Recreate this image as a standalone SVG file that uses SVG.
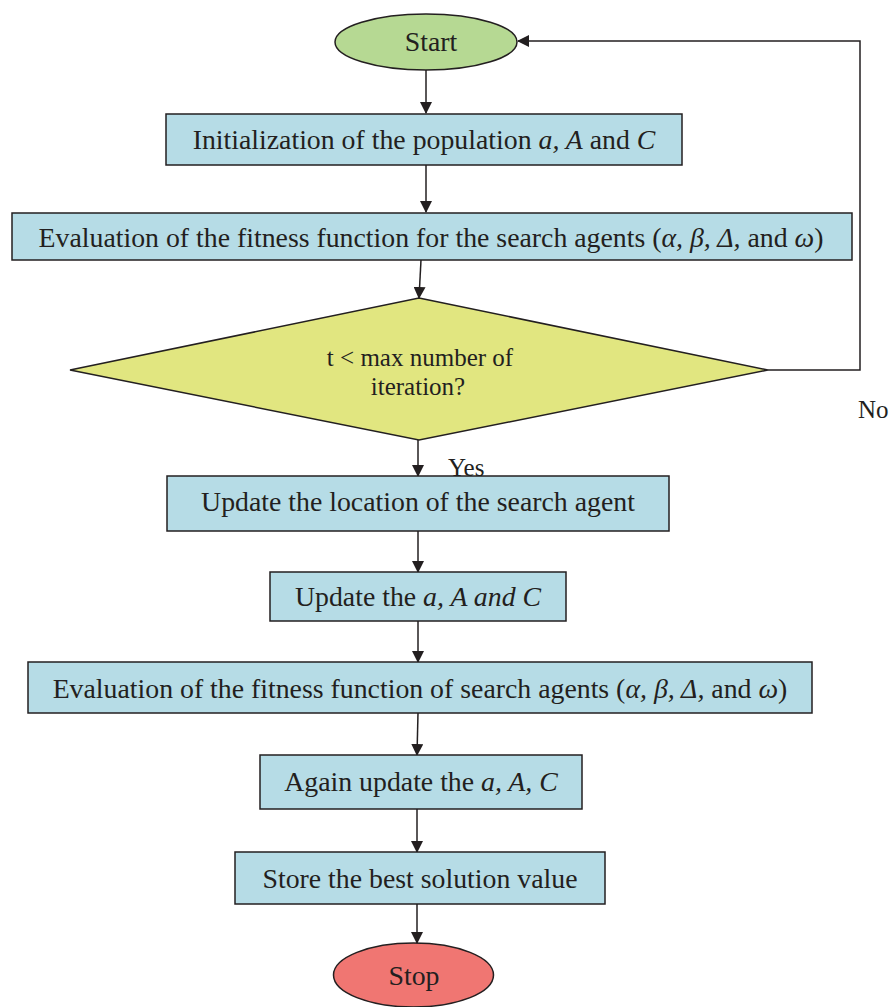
<svg xmlns="http://www.w3.org/2000/svg" width="893" height="1007" viewBox="0 0 893 1007">
<defs>
<marker id="arr" markerWidth="12" markerHeight="12" refX="11" refY="6" orient="auto" markerUnits="userSpaceOnUse">
<path d="M0,0 L12,6 L0,12 Z" fill="#231f20"/>
</marker>
<style>
.box{fill:#b6dce6;stroke:#231f20;stroke-width:1.5}
.dia{fill:#e1e680;stroke:#231f20;stroke-width:1.5}
.start{fill:#b6d993;stroke:#231f20;stroke-width:1.5}
.stop{fill:#f07672;stroke:#231f20;stroke-width:1.5}
.t{font-family:"Liberation Serif","Times New Roman",serif;font-size:27.8px;fill:#231f20;text-anchor:middle}
.lbl{font-family:"Liberation Serif","Times New Roman",serif;font-size:25px;fill:#231f20}
.c{fill:none;stroke:#231f20;stroke-width:1.5}
</style>
</defs>
<rect width="893" height="1007" fill="#ffffff"/>
<g id="connectors">
<line class="c" x1="426" y1="70" x2="426" y2="113" marker-end="url(#arr)"/>
<line class="c" x1="426" y1="165" x2="426" y2="212" marker-end="url(#arr)"/>
<line class="c" x1="421" y1="260" x2="419" y2="298" marker-end="url(#arr)"/>
<polyline class="c" points="768,370 860,370 860,41 518,41" marker-end="url(#arr)"/>
<line class="c" x1="418" y1="440" x2="418" y2="476" marker-end="url(#arr)"/>
<line class="c" x1="418" y1="531" x2="418" y2="572" marker-end="url(#arr)"/>
<line class="c" x1="418" y1="621" x2="418" y2="662" marker-end="url(#arr)"/>
<line class="c" x1="418" y1="713" x2="417" y2="755" marker-end="url(#arr)"/>
<line class="c" x1="417" y1="809" x2="417" y2="852" marker-end="url(#arr)"/>
<line class="c" x1="417" y1="904" x2="417" y2="943" marker-end="url(#arr)"/>
<text class="lbl" x="858" y="418">No</text>
<text class="lbl" x="448" y="476" font-size="26px">Yes</text>
</g>
<g id="start">
<ellipse class="start" cx="426" cy="42" rx="91" ry="28"/>
<text class="t" x="431" y="51">Start</text>
</g>
<g id="init">
<rect class="box" x="166" y="114" width="516" height="51"/>
<text class="t" x="424" y="149">Initialization of the population <tspan font-style="italic">a, A</tspan> and <tspan font-style="italic">C</tspan></text>
</g>
<g id="eval1">
<rect class="box" x="12" y="213" width="840" height="47"/>
<text class="t" x="431" y="247">Evaluation of the fitness function for the search agents (<tspan font-style="italic">α, β, Δ,</tspan> and <tspan font-style="italic">ω</tspan>)</text>
</g>
<g id="decision">
<polygon class="dia" points="419,298 768,370 419,440 70,370"/>
<text class="lbl" x="420" y="366" text-anchor="middle">t &lt; max number of</text>
<text class="lbl" x="418" y="395" text-anchor="middle">iteration?</text>
</g>
<g id="update-location">
<rect class="box" x="167" y="476" width="502" height="55"/>
<text class="t" x="418" y="511">Update the location of the search agent</text>
</g>
<g id="update-aAC">
<rect class="box" x="270" y="572" width="296" height="49"/>
<text class="t" x="418" y="606">Update the <tspan font-style="italic">a, A and C</tspan></text>
</g>
<g id="eval2">
<rect class="box" x="28" y="662" width="784" height="51"/>
<text class="t" x="420" y="698">Evaluation of the fitness function of search agents (<tspan font-style="italic">α, β, Δ,</tspan> and <tspan font-style="italic">ω</tspan>)</text>
</g>
<g id="again-update">
<rect class="box" x="260" y="755" width="322" height="54"/>
<text class="t" x="421" y="791">Again update the <tspan font-style="italic">a, A, C</tspan></text>
</g>
<g id="store">
<rect class="box" x="235" y="852" width="370" height="52"/>
<text class="t" x="420" y="888">Store the best solution value</text>
</g>
<g id="stop">
<ellipse class="stop" cx="413.5" cy="975" rx="80" ry="32"/>
<text class="t" x="414" y="985">Stop</text>
</g>
</svg>
